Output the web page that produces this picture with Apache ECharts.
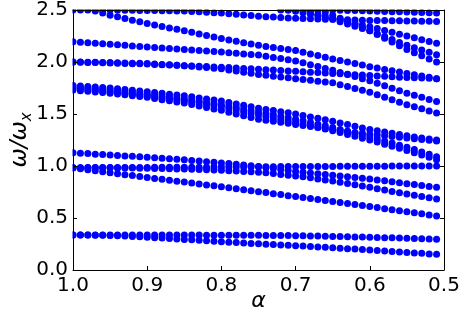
<!DOCTYPE html>
<html>
<head>
<meta charset="utf-8">
<script src="https://cdn.jsdelivr.net/npm/echarts@6/dist/echarts.min.js"></script>
<style>
html,body{margin:0;padding:0;background:#fff;}
#chart{width:463px;height:313px;}
</style>
</head>
<body>
<div id="chart"></div>
<script>
// alpha values (x axis, decreasing to the right)
const alpha = [1.00,0.99,0.98,0.97,0.96,0.95,0.94,0.93,0.92,0.91,
  0.90,0.89,0.88,0.87,0.86,0.85,0.84,0.83,0.82,0.81,
  0.80,0.79,0.78,0.77,0.76,0.75,0.74,0.73,0.72,0.71,
  0.70,0.69,0.68,0.67,0.66,0.65,0.64,0.63,0.62,0.61,
  0.60,0.59,0.58,0.57,0.56,0.55,0.54,0.53,0.52,0.51];

const xTicks = [1.0, 0.9, 0.8, 0.7, 0.6, 0.5];
const yTicks = [0.0, 0.5, 1.0, 1.5, 2.0, 2.5];

// mode frequencies omega/omega_x, one array per branch
const modeA = [.337,.337,.337,.337,.337,.337,.337,.337,.337,.337,
  .337,.337,.336,.336,.336,.336,.336,.336,.335,.335,
  .335,.335,.334,.334,.333,.333,.332,.332,.331,.331,
  .330,.329,.327,.326,.324,.323,.321,.320,.318,.317,
  .315,.313,.311,.309,.307,.305,.302,.300,.297,.295];
const modeB = [.337,.337,.336,.335,.334,.332,.329,.326,.322,.319,
  .315,.311,.307,.303,.298,.294,.290,.285,.281,.276,
  .272,.268,.264,.260,.256,.252,.248,.245,.241,.238,
  .234,.230,.226,.222,.218,.214,.210,.205,.201,.196,
  .192,.187,.182,.178,.173,.168,.164,.160,.155,.151];
const modeD = [.984,.974,.964,.954,.945,.935,.926,.917,.908,.899,
  .890,.881,.872,.863,.854,.845,.836,.827,.818,.809,
  .800,.791,.781,.772,.762,.753,.744,.734,.725,.715,
  .706,.696,.687,.677,.668,.658,.648,.639,.629,.620,
  .610,.600,.590,.580,.570,.560,.550,.540,.530,.520];
const modeE = [.984,.984,.985,.985,.985,.985,.985,.986,.986,.986,
  .986,.987,.987,.987,.988,.988,.988,.989,.989,.990,
  .990,.990,.991,.991,.992,.992,.993,.993,.994,.994,
  .995,.995,.995,.996,.996,.996,.997,.997,.997,.998,
  .998,.998,.998,.999,.999,.999,.999,1.0,1.0,1.0];
const modeG = [.984,.984,.983,.983,.982,.982,.981,.980,.980,.979,
  .978,.977,.975,.974,.972,.970,.968,.966,.963,.961,
  .958,.955,.951,.948,.944,.940,.934,.927,.919,.912,
  .905,.896,.886,.875,.865,.855,.843,.831,.819,.807,
  .795,.782,.769,.756,.743,.730,.718,.707,.695,.683];
const modeF = [1.128,1.123,1.119,1.114,1.110,1.105,1.101,1.097,1.093,1.089,
  1.085,1.080,1.075,1.070,1.065,1.060,1.054,1.048,1.042,1.036,
  1.030,1.023,1.016,1.009,1.002,.995,.986,.976,.967,.957,
  .948,.940,.933,.925,.918,.910,.903,.896,.889,.882,
  .875,.866,.857,.848,.839,.830,.821,.813,.804,.795];
const modeH1 = [1.775,1.770,1.765,1.760,1.755,1.750,1.743,1.736,1.729,1.722,
  1.715,1.707,1.699,1.691,1.683,1.675,1.665,1.655,1.645,1.635,
  1.625,1.611,1.597,1.583,1.569,1.555,1.544,1.533,1.522,1.511,
  1.500,1.486,1.472,1.458,1.444,1.430,1.414,1.398,1.382,1.366,
  1.350,1.338,1.326,1.314,1.302,1.290,1.280,1.270,1.260,1.250];
const modeH2 = [1.760,1.754,1.748,1.742,1.736,1.730,1.722,1.714,1.706,1.698,
  1.690,1.681,1.672,1.663,1.654,1.645,1.634,1.623,1.612,1.601,
  1.590,1.576,1.562,1.548,1.534,1.520,1.506,1.492,1.478,1.464,
  1.450,1.434,1.418,1.402,1.386,1.370,1.352,1.334,1.316,1.298,
  1.280,1.260,1.240,1.220,1.200,1.180,1.158,1.135,1.113,1.090];
const modeH3 = [1.745,1.739,1.733,1.727,1.721,1.715,1.707,1.699,1.691,1.683,
  1.675,1.666,1.657,1.648,1.639,1.630,1.618,1.606,1.594,1.582,
  1.570,1.554,1.538,1.522,1.506,1.490,1.476,1.462,1.448,1.434,
  1.420,1.404,1.388,1.372,1.356,1.340,1.322,1.304,1.286,1.268,
  1.250,1.230,1.210,1.190,1.170,1.150,1.128,1.105,1.083,1.060];
const modeH4 = [1.730,1.724,1.718,1.712,1.706,1.700,1.692,1.684,1.676,1.668,
  1.660,1.649,1.638,1.627,1.616,1.605,1.591,1.577,1.563,1.549,
  1.535,1.518,1.501,1.484,1.467,1.450,1.440,1.430,1.420,1.410,
  1.400,1.390,1.380,1.370,1.360,1.350,1.341,1.332,1.323,1.314,
  1.305,1.298,1.291,1.284,1.277,1.270,1.263,1.255,1.248,1.240];
const modeU1 = [2.000,1.998,1.996,1.994,1.992,1.990,1.988,1.986,1.984,1.982,
  1.980,1.977,1.974,1.971,1.968,1.965,1.962,1.959,1.956,1.953,
  1.950,1.946,1.942,1.938,1.934,1.930,1.926,1.922,1.918,1.914,
  1.910,1.906,1.902,1.898,1.894,1.890,1.886,1.882,1.878,1.874,
  1.870,1.866,1.862,1.858,1.854,1.850,1.848,1.845,1.843,1.840];
const modeU2 = [2.000,1.999,1.998,1.997,1.996,1.995,1.993,1.991,1.989,1.987,
  1.985,1.981,1.977,1.973,1.969,1.965,1.959,1.953,1.947,1.941,
  1.935,1.924,1.913,1.902,1.891,1.880,1.872,1.864,1.856,1.848,
  1.840,1.832,1.824,1.816,1.808,1.800,1.782,1.764,1.746,1.728,
  1.710,1.686,1.662,1.638,1.614,1.590,1.570,1.550,1.530,1.510];
const modeU3 = [2.195,2.190,2.185,2.180,2.175,2.170,2.165,2.160,2.155,2.150,
  2.145,2.140,2.135,2.130,2.125,2.120,2.115,2.110,2.105,2.100,
  2.095,2.089,2.084,2.078,2.073,2.067,2.056,2.044,2.033,2.021,
  2.010,1.992,1.974,1.956,1.938,1.920,1.900,1.880,1.860,1.840,
  1.820,1.796,1.772,1.748,1.724,1.700,1.680,1.660,1.640,1.620];
const modeDesc = [null,2.520,2.505,2.490,2.470,2.450,2.434,2.418,2.402,2.386,
  2.370,2.356,2.342,2.328,2.314,2.300,2.285,2.270,2.255,2.240,
  2.225,2.212,2.199,2.186,2.173,2.160,2.150,2.140,2.130,2.120,
  2.110,2.094,2.078,2.062,2.046,2.030,2.015,2.000,1.985,1.970,
  1.955,1.942,1.929,1.916,1.903,1.890,1.878,1.865,1.853,1.840];
const modeT = [2.500,2.500,2.500,2.500,2.500,2.500,2.499,2.498,2.497,2.496,
  2.495,2.494,2.493,2.492,2.491,2.490,2.486,2.482,2.478,2.474,
  2.470,2.464,2.458,2.452,2.446,2.440,2.436,2.432,2.428,2.424,
  2.420,2.418,2.416,2.414,2.412,2.410,2.408,2.406,2.404,2.402,
  2.400,2.399,2.398,2.397,2.396,2.395,2.394,2.392,2.391,2.390];
const modeT2 = [null,null,null,null,null,null,null,null,null,null,
  null,null,null,null,null,null,null,null,null,null,
  null,null,null,null,null,null,null,null,2.500,2.500,
  2.500,2.500,2.500,2.500,2.500,2.500,2.498,2.496,2.494,2.492,
  2.490,2.488,2.486,2.484,2.482,2.480,2.478,2.476,2.473,2.470];
const modeV1 = [null,null,null,null,null,null,null,null,null,null,
  null,null,null,null,null,null,null,null,null,null,
  null,null,null,null,null,null,null,null,null,2.500,
  2.487,2.473,2.460,2.447,2.433,2.420,2.404,2.388,2.372,2.356,
  2.340,2.322,2.304,2.286,2.268,2.250,2.232,2.215,2.197,2.180];
const modeV2 = [null,null,null,null,null,null,null,null,null,null,
  null,null,null,null,null,null,null,null,null,null,
  null,null,null,null,null,null,null,null,null,null,
  null,2.500,2.478,2.455,2.433,2.410,2.388,2.366,2.344,2.322,
  2.300,2.272,2.244,2.216,2.188,2.160,2.138,2.115,2.093,2.070];
const modeV3 = [null,null,null,null,null,null,null,null,null,null,
  null,null,null,null,null,null,null,null,null,null,
  null,null,null,null,null,null,null,null,null,null,
  null,null,null,2.500,2.475,2.450,2.420,2.390,2.360,2.330,
  2.300,2.264,2.228,2.192,2.156,2.120,2.090,2.060,2.030,2.000];

const modes = [modeA, modeB, modeD, modeE, modeG, modeF, modeH1, modeH2, modeH3, modeH4,
  modeU1, modeU2, modeU3, modeDesc, modeT, modeT2, modeV1, modeV2, modeV3];

const chart = echarts.init(document.getElementById('chart'), null, {renderer: 'canvas'});

const FONT = 'DejaVu Sans';
const axisCommon = {
  z: 10,
  nameMoveOverlap: false,
  axisLine: {show: true, onZero: false, lineStyle: {color: '#000', width: 1}},
  axisTick: {show: true, inside: true, length: 4, lineStyle: {color: '#000', width: 1}},
  splitLine: {show: false}
};

const series = modes.map(vals => ({
  type: 'scatter',
  xAxisIndex: 0,
  yAxisIndex: 0,
  symbol: 'circle',
  symbolSize: 7,
  itemStyle: {color: '#0000ff', opacity: 1},
  clip: true,
  z: 2,
  animation: false,
  silent: true,
  data: alpha.map((a, i) => [a, vals[i]]).filter(p => p[1] !== null)
}));

chart.setOption({
  animation: false,
  backgroundColor: '#fff',
  grid: {left: 73, right: 19, top: 10, bottom: 43, containLabel: false, outerBoundsMode: 'none'},
  // white masks outside the plot frame, so markers are cut at the frame edge
  graphic: [
    {type: 'rect', z: 5, silent: true, shape: {x: 0, y: 0, width: 463, height: 9.5}, style: {fill: '#fff'}},
    {type: 'rect', z: 5, silent: true, shape: {x: 0, y: 0, width: 72.5, height: 313}, style: {fill: '#fff'}}
  ],
  xAxis: [
    Object.assign({}, axisCommon, {
      type: 'value', position: 'bottom', min: 0.5, max: 1.0, interval: 0.1, inverse: true,
      axisLabel: {show: true, color: '#000', fontSize: 20, fontFamily: FONT, margin: 6,
        formatter: v => { const t = xTicks.find(k => Math.abs(k - v) < 1e-6); return t === undefined ? '' : t.toFixed(1); }},
      name: 'α', nameLocation: 'middle', nameGap: 20,
      nameTextStyle: {color: '#000', fontSize: 22, fontStyle: 'italic', fontFamily: FONT}
    }),
    Object.assign({}, axisCommon, {
      type: 'value', position: 'top', min: 0.5, max: 1.0, interval: 0.1, inverse: true,
      axisLabel: {show: false}
    })
  ],
  yAxis: [
    Object.assign({}, axisCommon, {
      type: 'value', position: 'left', min: 0, max: 2.5, interval: 0.5,
      axisLabel: {show: true, color: '#000', fontSize: 20, fontFamily: FONT, margin: 5,
        formatter: v => { const t = yTicks.find(k => Math.abs(k - v) < 1e-6); return t === undefined ? '' : t.toFixed(1); }},
      name: '{w|ω/ω}{s|x}', nameLocation: 'middle', nameGap: 38, nameRotate: 90,
      nameTextStyle: {color: '#000', fontFamily: FONT,
        rich: {
          w: {fontSize: 23, fontStyle: 'italic', fontFamily: FONT, color: '#000', lineHeight: 30, verticalAlign: 'middle'},
          s: {fontSize: 15, fontStyle: 'italic', fontFamily: FONT, color: '#000', lineHeight: 30, verticalAlign: 'bottom'}
        }}
    }),
    Object.assign({}, axisCommon, {
      type: 'value', position: 'right', min: 0, max: 2.5, interval: 0.5,
      axisLabel: {show: false}
    })
  ],
  series: series
});
</script>
</body>
</html>
